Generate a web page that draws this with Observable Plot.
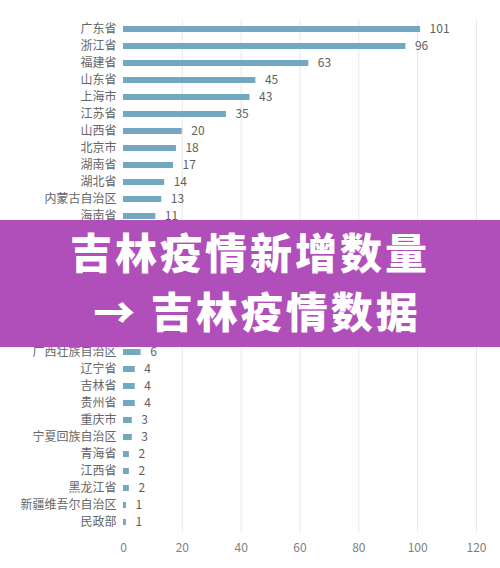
<!DOCTYPE html>
<html>
<head>
<meta charset="utf-8">
<script src="https://cdn.jsdelivr.net/npm/d3@7"></script>
<script src="https://cdn.jsdelivr.net/npm/@observablehq/plot@0.6"></script>
<style>
  html, body { margin: 0; padding: 0; background: #fff; }
  #wrap { position: relative; width: 500px; height: 568px; overflow: hidden; }
  #banner {
    position: absolute; left: 0; top: 220px; width: 500px; height: 127px;
    background: #b04fba; color: #fff;
    font-family: "Noto Sans CJK SC", sans-serif; font-weight: 900;
    font-size: 42px; letter-spacing: 3px; text-align: center;
    line-height: 59px; padding-top: 1px; box-sizing: border-box;
  }
  #banner .l2 { padding-left: 14px; }
</style>
</head>
<body>
<div id="wrap">
  <div id="chart"></div>
  <div id="banner"><div>吉林疫情新增数量</div><div class="l2">→ 吉林疫情数据</div></div>
</div>
<script>
const regions = ["广东省","浙江省","福建省","山东省","上海市","江苏省","山西省","北京市","湖南省","湖北省","内蒙古自治区","海南省",
  "天津市","四川省","河南省","陕西省","河北省","云南省","甘肃省",
  "广西壮族自治区","辽宁省","吉林省","贵州省","重庆市","宁夏回族自治区","青海省","江西省","黑龙江省","新疆维吾尔自治区","民政部"];
const counts = [101,96,63,45,43,35,20,18,17,14,13,11,
  10,9,8,8,7,7,6,
  6,4,4,4,3,3,2,2,2,1,1];
const xTicks = [0,20,40,60,80,100,120];

const data = regions.map((r, i) => ({region: r, count: counts[i]}));

const chart = Plot.plot({
  width: 500,
  height: 568,
  marginTop: 20,
  marginBottom: 36,
  marginLeft: 123,
  marginRight: 24,
  style: {fontFamily: "'Noto Sans CJK SC', sans-serif", fontSize: "12px", color: "#666", background: "#fff"},
  x: {domain: [0, 120], ticks: xTicks, label: null, tickSize: 0, tickPadding: 11},
  y: {domain: regions, label: null, paddingInner: 0.64, paddingOuter: 0.32, tickSize: 0, tickPadding: 7},
  marks: [
    Plot.ruleX(xTicks.filter(d => d > 0), {stroke: "#e8e8e8", strokeWidth: 1}),
    Plot.barX(data, {x: "count", y: "region", fill: "#72a9c1"}),
    Plot.text(data, {x: "count", y: "region", text: d => String(d.count), textAnchor: "start", dx: 9, fill: "#606060", fontSize: 12}),
    Plot.axisY({tickSize: 0, tickPadding: 7, fill: "#666", fontSize: 12, label: null}),
    Plot.axisX({ticks: xTicks, tickSize: 0, tickPadding: 11, fill: "#808080", fontSize: 12, label: null})
  ]
});
document.getElementById("chart").appendChild(chart);
</script>
</body>
</html>
